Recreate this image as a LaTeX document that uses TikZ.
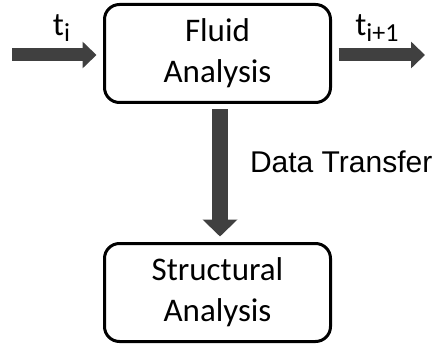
\documentclass[tikz,border=0pt]{standalone}
\usepackage{fontspec}
\setmainfont{Carlito}
\newfontfamily\transferfont{Liberation Sans}
\usetikzlibrary{arrows.meta,positioning}
\definecolor{arrowgray}{RGB}{64,64,64}
\newcommand\stepsub[1]{\raisebox{-6pt}{\fontsize{26}{28}\selectfont #1}}
\tikzset{
  analysis/.style={draw, line width=3pt, rounded corners=15pt, align=center,
    minimum width=226pt, minimum height=98pt, inner sep=0pt,
    font=\fontsize{33}{41}\selectfont},
  flowarrow/.style={draw=arrowgray, line width=13pt, -{Triangle[length=14pt,width=26pt]}},
  transferarrow/.style={draw=arrowgray, line width=16pt, -{Triangle[length=17pt,width=34pt]}},
  steplabel/.style={anchor=base, inner sep=0pt, font=\fontsize{33}{36}\selectfont},
}

\begin{document}
\begin{tikzpicture}[x=1pt,y=1pt]
  \useasboundingbox (0,0) rectangle (438,351);

  % the two solvers
  \node[analysis] (fluid) at (217.5,297.5) {Fluid\\Analysis};
  \node[analysis] (struct) at (217.5,58.5) {Structural\\Analysis};

  % time steps in and out
  \coordinate (tin) at (12,296);
  \coordinate (tout) at (425,296);
  \draw[flowarrow, shorten >=6.5pt] (tin) -- (tin -| fluid.west)
    node[steplabel, midway, xshift=4pt, yshift=19.5pt]{t\stepsub{i}};
  \draw[flowarrow, shorten <=6.5pt] (tout -| fluid.east) -- (tout)
    node[steplabel, midway, xshift=-1.5pt, yshift=19.5pt]{t\stepsub{i+1}};

  % coupling
  \draw[transferarrow, shorten <=5.5pt, shorten >=5.5pt]
    ([xshift=2.5pt]fluid.south) -- ([xshift=2.5pt]struct.north)
    node[pos=0.42, anchor=west, xshift=22pt, inner sep=0pt,
      font=\transferfont\fontsize{30}{34}\selectfont]{Data Transfer};
\end{tikzpicture}
\end{document}
